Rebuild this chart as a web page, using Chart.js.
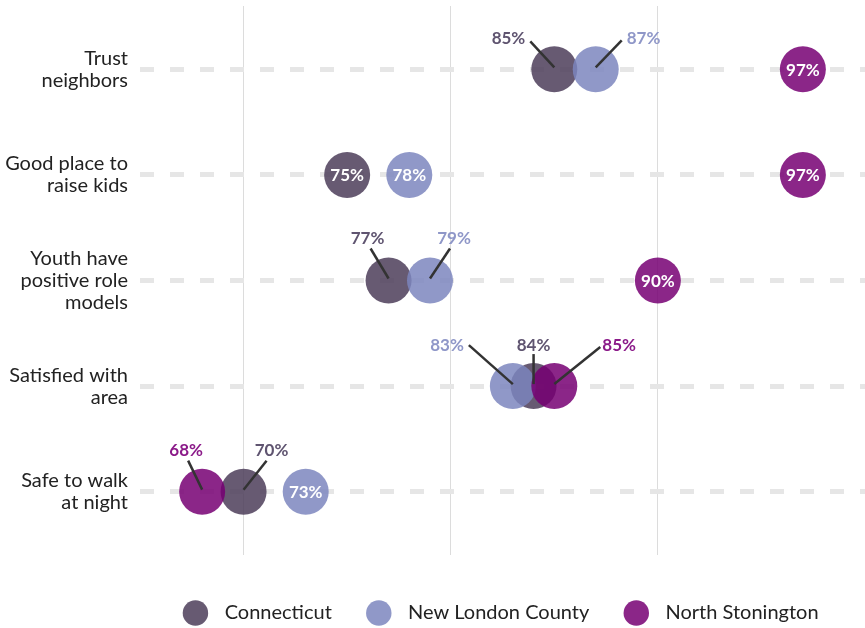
<!DOCTYPE html>
<html>
<head>
<meta charset="utf-8">
<script src="https://cdn.jsdelivr.net/npm/chart.js@4"></script>
<style>
  html, body { margin: 0; padding: 0; background: #fff; }
  #wrap { width: 865px; height: 628px; }
</style>
</head>
<body>
<div id="wrap"><canvas id="dotChart"></canvas></div>
<script>
var categories = [
    ["Trust", "neighbors"],
    ["Good place to", "raise kids"],
    ["Youth have", "positive role", "models"],
    ["Satisfied with", "area"],
    ["Safe to walk", "at night"]
];
var seriesNames = ["Connecticut", "New London County", "North Stonington"];
var connecticut = [85, 75, 77, 84, 70];
var newLondon = [87, 78, 79, 83, 73];
var northStonington = [97, 97, 90, 85, 68];
var gridValues = [70, 80, 90];

// label placement for crowded dots: [lineDx, lineDy, textDx, textDy, align], null = inside
var callouts = [
    [[-24, -28, -29, -31, 'right'], null, [-18, -32, -21, -42, 'center'], [0, -32, 0, -41, 'center'], [23, -31, 28, -41, 'center']],
    [[26, -29, 31, -31, 'left'], null, [20, -32, 24, -42, 'center'], [-44, -41, -49, -41, 'right'], null],
    [null, null, null, [46, -39, 48, -41, 'left'], [-14, -31, -16, -41, 'center']]
];

var fills = ["rgba(76,61,89,0.85)", "rgba(124,134,190,0.85)", "rgba(119,0,115,0.85)"];
var textColors = ["#5f5470", "#8f97c8", "#8b1a89"];

function toPoints(values){
    return values.map(function(v, i){ return {x: v, y: i}; });
}

var valueLabels = {
    id: 'valueLabels',
    afterLayout: function(chart){
        // nudge legend a bit lower
        chart.legend.top += 5;
        chart.legend.bottom += 5;
    },
    afterDatasetsDraw: function(chart){
        var ctx = chart.ctx;
        ctx.save();
        ctx.font = 'bold 17px Lato';
        ctx.textBaseline = 'middle';
        chart.data.datasets.forEach(function(ds, d){
            var meta = chart.getDatasetMeta(d);
            meta.data.forEach(function(pt, i){
                var txt = ds.data[i].x + '%';
                var c = callouts[d][i];
                if (!c) {
                    ctx.fillStyle = '#fff';
                    ctx.textAlign = 'center';
                    ctx.fillText(txt, pt.x, pt.y + 1);
                    return;
                }
                ctx.strokeStyle = '#333';
                ctx.lineWidth = 2.5;
                ctx.beginPath();
                ctx.moveTo(pt.x, pt.y - 2);
                ctx.lineTo(pt.x + c[0], pt.y + c[1]);
                ctx.stroke();
                ctx.fillStyle = textColors[d];
                ctx.textAlign = c[4];
                ctx.fillText(txt, pt.x + c[2], pt.y + c[3]);
            });
        });
        ctx.restore();
    }
};

var defaultLabels = Chart.defaults.plugins.legend.labels.generateLabels;

var ctxD = document.getElementById("dotChart").getContext('2d');
var myDotChart = new Chart(ctxD, {
    type: 'scatter',
    data: {
        datasets: [
            {label: seriesNames[0], data: toPoints(connecticut), backgroundColor: fills[0], order: 3},
            {label: seriesNames[1], data: toPoints(newLondon), backgroundColor: fills[1], order: 2},
            {label: seriesNames[2], data: toPoints(northStonington), backgroundColor: fills[2], order: 1}
        ]
    },
    options: {
        responsive: true,
        maintainAspectRatio: false,
        animation: false,
        events: [],
        elements: {
            point: {radius: 23, borderWidth: 0, hoverRadius: 23}
        },
        layout: {autoPadding: false, padding: {top: 6, bottom: 0, left: 0, right: 0}},
        scales: {
            x: {
                type: 'linear',
                min: 65,
                max: 100,
                afterBuildTicks: function(scale){
                    scale.ticks = gridValues.map(function(v){ return {value: v}; });
                },
                afterFit: function(scale){
                    scale.height = 5;
                    scale.paddingLeft = 0;
                    scale.paddingRight = 0;
                },
                ticks: {display: false},
                grid: {color: '#dcdcdc', lineWidth: 1, drawTicks: false},
                border: {display: false}
            },
            y: {
                type: 'linear',
                reverse: true,
                min: -0.6,
                max: 4.6,
                afterBuildTicks: function(scale){
                    scale.ticks = categories.map(function(c, i){ return {value: i}; });
                },
                afterFit: function(scale){
                    scale.width = 140;
                    scale.paddingTop = 0;
                    scale.paddingBottom = 0;
                },
                ticks: {
                    padding: 12,
                    color: '#222',
                    font: {family: 'Lato', size: 20, lineHeight: '22px'},
                    callback: function(v){ return categories[v]; }
                },
                grid: {color: '#e6e6e6', lineWidth: 5, drawTicks: false},
                border: {display: false, dash: [14, 16]}
            }
        },
        plugins: {
            tooltip: {enabled: false},
            legend: {
                position: 'bottom',
                fullSize: false,
                labels: {
                    usePointStyle: true,
                    pointStyle: 'circle',
                    boxWidth: 18,
                    boxHeight: 18,
                    padding: 38,
                    color: '#222',
                    font: {family: 'Lato', size: 20},
                    sort: function(a, b){ return a.datasetIndex - b.datasetIndex; },
                    generateLabels: function(chart){
                        return defaultLabels(chart).map(function(item){
                            item.text = '  ' + item.text;
                            return item;
                        });
                    }
                }
            }
        }
    },
    plugins: [valueLabels]
});
</script>
</body>
</html>
